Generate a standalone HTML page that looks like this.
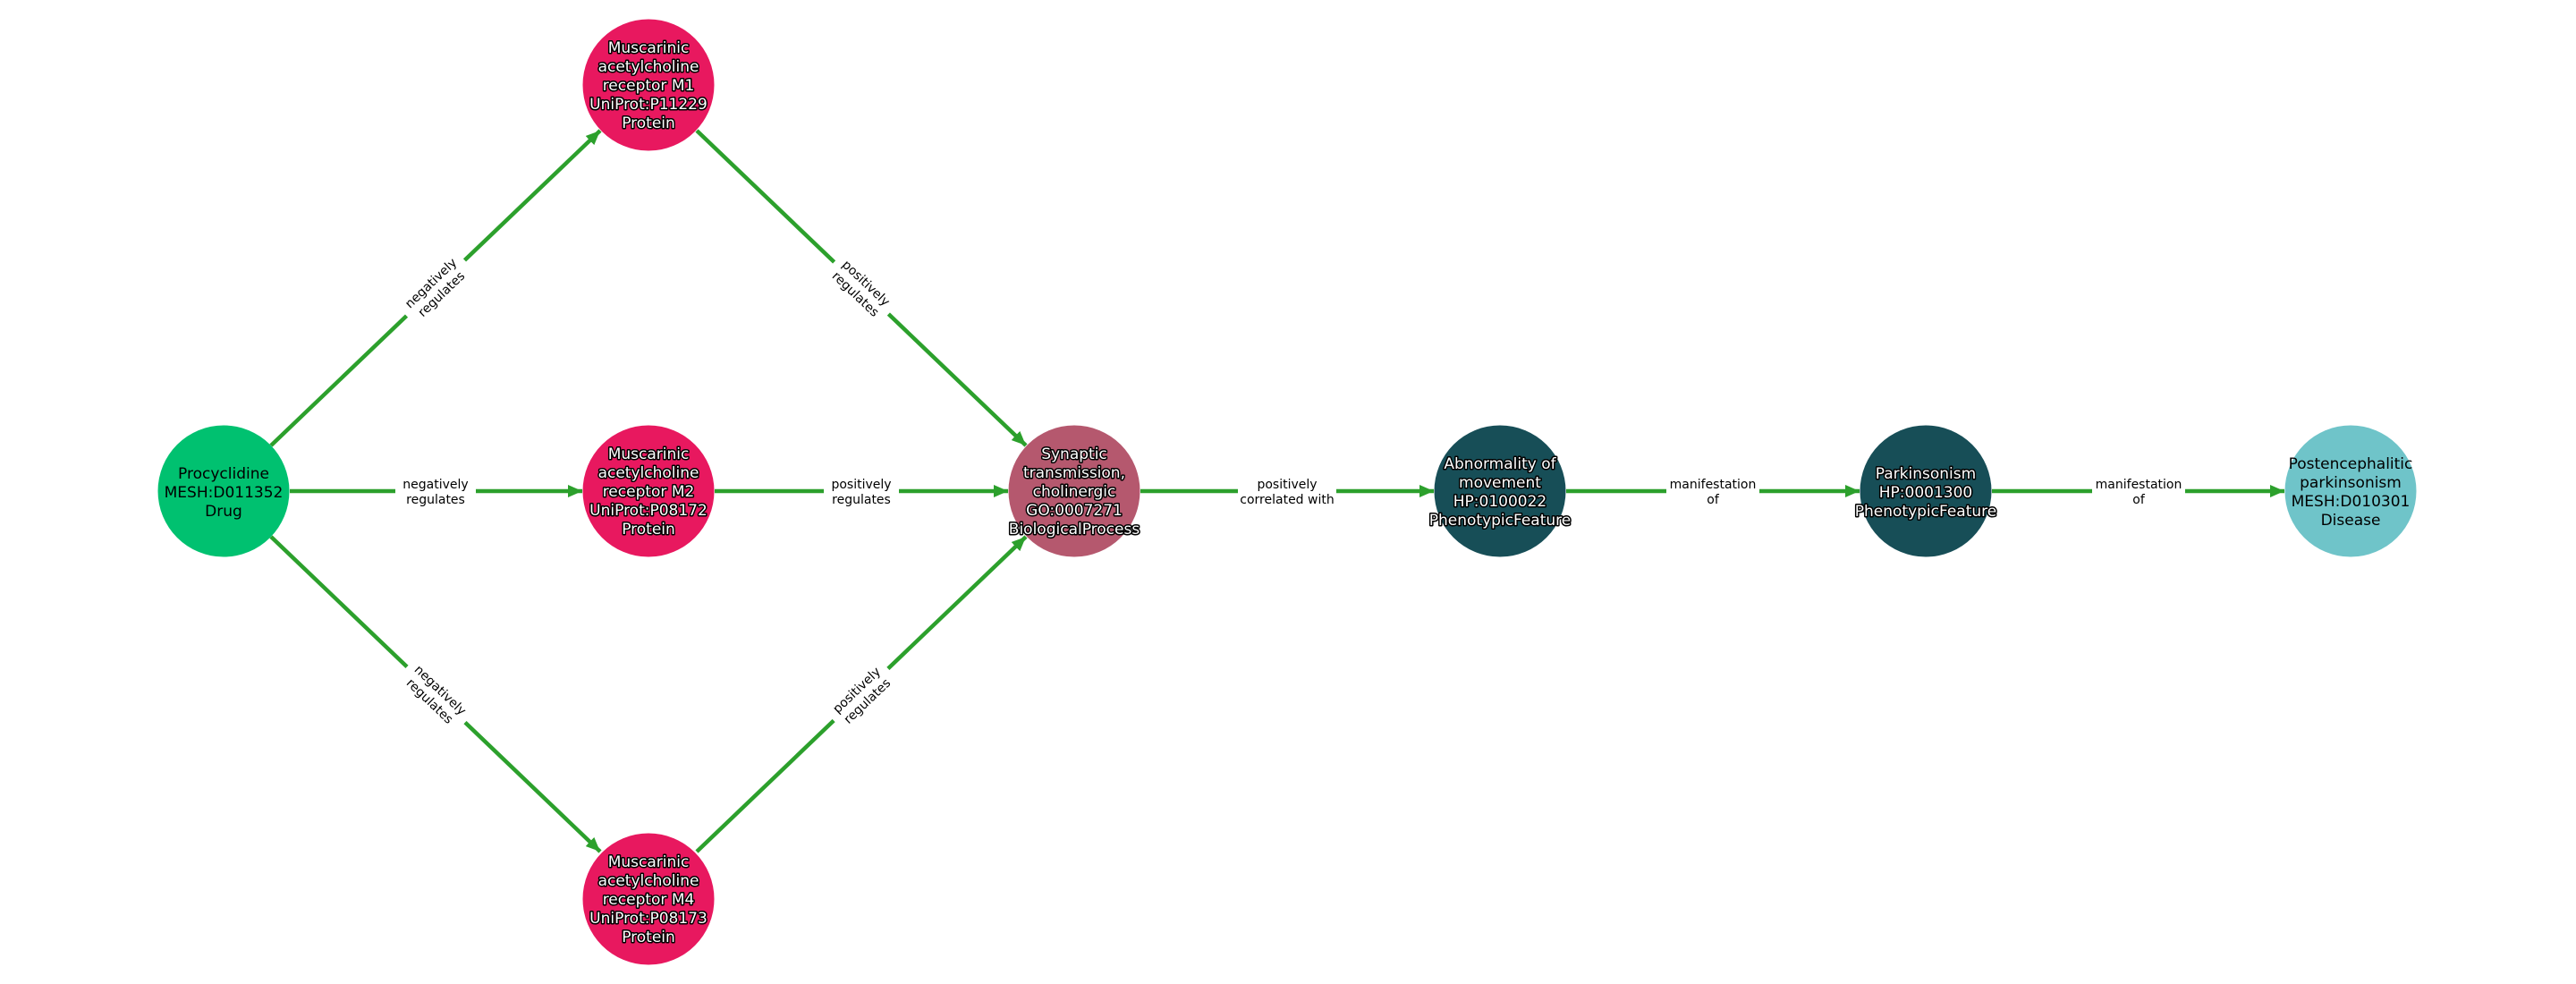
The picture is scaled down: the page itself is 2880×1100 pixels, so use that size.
<!DOCTYPE html>
<html><head><meta charset="utf-8"><style>
html,body{margin:0;padding:0;background:#fff;width:2880px;height:1100px;overflow:hidden}
svg{display:block}
.n{font-family:"DejaVu Sans","Liberation Sans",sans-serif;font-size:17px;text-anchor:middle}
.w{fill:#fff;stroke:#000;stroke-width:3px;paint-order:stroke;stroke-linejoin:round}
.b{fill:#000}
.l{font-family:"DejaVu Sans","Liberation Sans",sans-serif;font-size:14px;text-anchor:middle;fill:#000}
.e{stroke:#2ca02c;stroke-width:4.5;fill:none}
</style></head><body>
<svg width="2880" height="1100" viewBox="0 0 2880 1100" xmlns="http://www.w3.org/2000/svg">
<defs><marker id="a" markerUnits="userSpaceOnUse" markerWidth="18" markerHeight="14" refX="16" refY="7" orient="auto"><path d="M0,0 L16,7 L0,14 Z" fill="#2ca02c"/></marker></defs>
<g class="e" marker-end="url(#a)">
<line x1="303" y1="498" x2="671" y2="146"/>
<line x1="324" y1="549" x2="651" y2="549"/>
<line x1="303" y1="600" x2="671" y2="952"/>
<line x1="779" y1="146" x2="1147" y2="498"/>
<line x1="799" y1="549" x2="1127" y2="549"/>
<line x1="779" y1="952" x2="1147" y2="600"/>
<line x1="1275" y1="549" x2="1603" y2="549"/>
<line x1="1751" y1="549" x2="2079" y2="549"/>
<line x1="2227" y1="549" x2="2554" y2="549"/>
</g>
<g transform="translate(487,322) rotate(-43.7)"><rect x="-45" y="-20" width="90" height="40" fill="#fff"/><text class="l" y="-3">negatively</text><text class="l" y="14">regulates</text></g>
<g transform="translate(487,549)"><rect x="-45" y="-20" width="90" height="40" fill="#fff"/><text class="l" y="-3">negatively</text><text class="l" y="14">regulates</text></g>
<g transform="translate(487,777) rotate(43.7)"><rect x="-45" y="-20" width="90" height="40" fill="#fff"/><text class="l" y="-3">negatively</text><text class="l" y="14">regulates</text></g>
<g transform="translate(963,322) rotate(43.6)"><rect x="-42" y="-20" width="84" height="40" fill="#fff"/><text class="l" y="-3">positively</text><text class="l" y="14">regulates</text></g>
<g transform="translate(963,549)"><rect x="-42" y="-20" width="84" height="40" fill="#fff"/><text class="l" y="-3">positively</text><text class="l" y="14">regulates</text></g>
<g transform="translate(963,777) rotate(-43.6)"><rect x="-42" y="-20" width="84" height="40" fill="#fff"/><text class="l" y="-3">positively</text><text class="l" y="14">regulates</text></g>
<g transform="translate(1439,549)"><rect x="-55" y="-20" width="110" height="40" fill="#fff"/><text class="l" y="-3">positively</text><text class="l" y="14">correlated with</text></g>
<g transform="translate(1915,549)"><rect x="-52" y="-20" width="104" height="40" fill="#fff"/><text class="l" y="-3">manifestation</text><text class="l" y="14">of</text></g>
<g transform="translate(2391,549)"><rect x="-52" y="-20" width="104" height="40" fill="#fff"/><text class="l" y="-3">manifestation</text><text class="l" y="14">of</text></g>

<circle cx="250" cy="549" r="73.5" fill="#00c170"/>
<circle cx="725" cy="95" r="73.5" fill="#e8185f"/>
<circle cx="725" cy="549" r="73.5" fill="#e8185f"/>
<circle cx="725" cy="1005" r="73.5" fill="#e8185f"/>
<circle cx="1201" cy="549" r="73.5" fill="#b5586e"/>
<circle cx="1677" cy="549" r="73.5" fill="#174e57"/>
<circle cx="2153" cy="549" r="73.5" fill="#174e57"/>
<circle cx="2628" cy="549" r="73.5" fill="#6fc4c9"/>

<g class="n b"><text x="250" y="535">Procyclidine</text><text x="250" y="556">MESH:D011352</text><text x="250" y="577">Drug</text></g>
<g class="n w"><text x="725" y="59">Muscarinic</text><text x="725" y="80">acetylcholine</text><text x="725" y="101">receptor M1</text><text x="725" y="122">UniProt:P11229</text><text x="725" y="143">Protein</text></g>
<g class="n w"><text x="725" y="513">Muscarinic</text><text x="725" y="534">acetylcholine</text><text x="725" y="555">receptor M2</text><text x="725" y="576">UniProt:P08172</text><text x="725" y="597">Protein</text></g>
<g class="n w"><text x="725" y="969">Muscarinic</text><text x="725" y="990">acetylcholine</text><text x="725" y="1011">receptor M4</text><text x="725" y="1032">UniProt:P08173</text><text x="725" y="1053">Protein</text></g>
<g class="n w"><text x="1201" y="513">Synaptic</text><text x="1201" y="534">transmission,</text><text x="1201" y="555">cholinergic</text><text x="1201" y="576">GO:0007271</text><text x="1201" y="597">BiologicalProcess</text></g>
<g class="n w"><text x="1677" y="524">Abnormality of</text><text x="1677" y="545">movement</text><text x="1677" y="566">HP:0100022</text><text x="1677" y="587">PhenotypicFeature</text></g>
<g class="n w"><text x="2153" y="535">Parkinsonism</text><text x="2153" y="556">HP:0001300</text><text x="2153" y="577">PhenotypicFeature</text></g>
<g class="n b"><text x="2628" y="524">Postencephalitic</text><text x="2628" y="545">parkinsonism</text><text x="2628" y="566">MESH:D010301</text><text x="2628" y="587">Disease</text></g>
</svg>
</body></html>
